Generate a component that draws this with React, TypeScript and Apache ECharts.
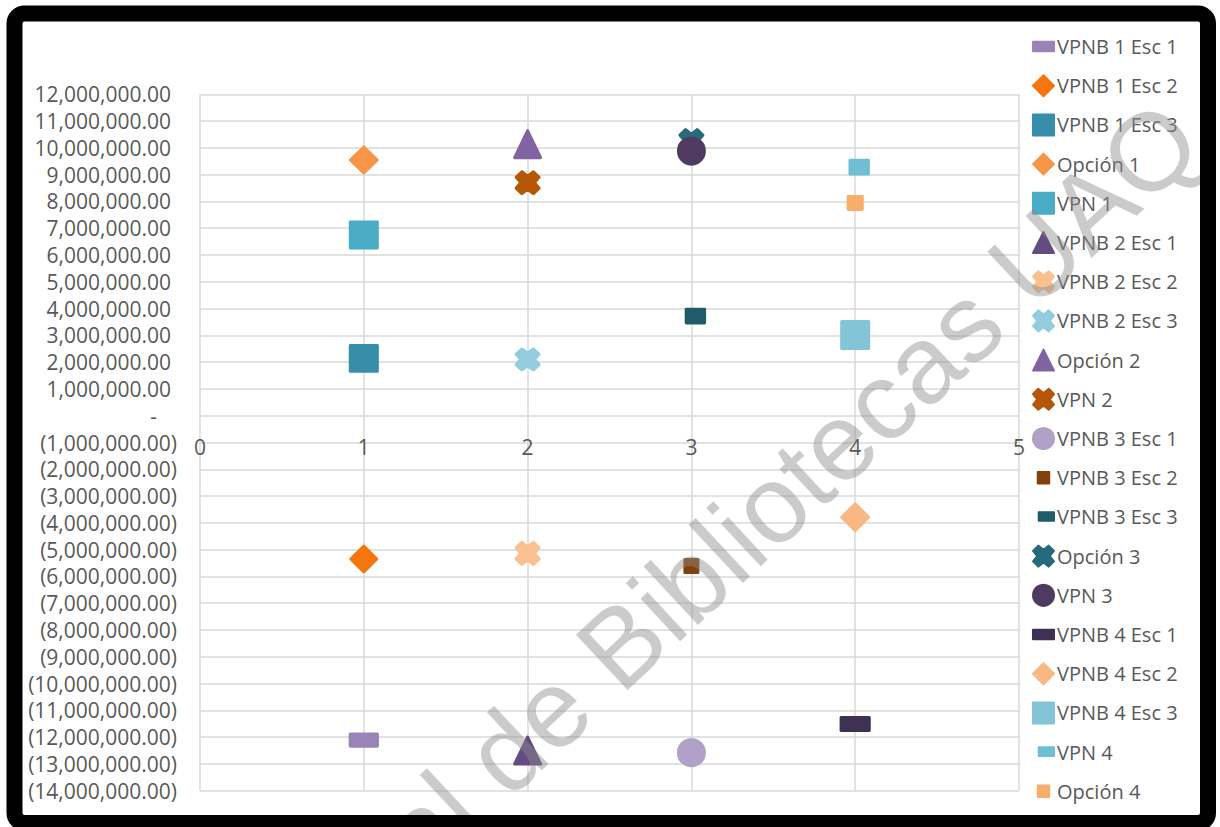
import { useEffect, useRef } from "react";
import * as echarts from "echarts";

// Series, in drawing order (later series sit on top of earlier ones)
const seriesNames = [
  "VPNB 1 Esc 1", "VPNB 1 Esc 2", "VPNB 1 Esc 3", "Opción 1", "VPN 1",
  "VPNB 2 Esc 1", "VPNB 2 Esc 2", "VPNB 2 Esc 3", "Opción 2", "VPN 2",
  "VPNB 3 Esc 1", "VPNB 3 Esc 2", "VPNB 3 Esc 3", "Opción 3", "VPN 3",
  "VPNB 4 Esc 1", "VPNB 4 Esc 2", "VPNB 4 Esc 3", "VPN 4", "Opción 4",
];

// Project number (x) of each series
const seriesX = [1, 1, 1, 1, 1, 2, 2, 2, 2, 2, 3, 3, 3, 3, 3, 4, 4, 4, 4, 4];

// Net present values (y) of each series
const seriesY = [
  -12110000, -5350000, 2140000, 9550000, 6750000,
  -12500000, -5140000, 2100000, 10140000, 8700000,
  -12580000, -5610000, 3720000, 10270000, 9880000,
  -11510000, -3790000, 3010000, 9280000, 7940000,
];

// Axis ranges
const yMin = -14000000;
const yMax = 12000000;
const yStep = 1000000;
const xMin = 0;
const xMax = 5;
const xStep = 1;

// Marker paths
const X_PATH =
  "path://M0 5L5 0L10 4L15 0L20 5L16 10L20 15L15 20L10 16L5 20L0 15L4 10Z";
const DASH_ICON = "path://M0 0M22 22M0 6L22 6L22 16L0 16Z";
const SMALL_DASH_ICON = "path://M0 0M22 22M6 6L22 6L22 15L6 15Z";
const SMALL_SQUARE_ICON = "path://M0 0M22 22M5 5L17 5L17 17L5 17Z";

type MarkerStyle = {
  symbol: string;
  size: [number, number];
  color: string;
  icon: string;
  offset?: [number, number];
};

const markerStyles: MarkerStyle[] = [
  { symbol: "rect", size: [26, 13], color: "#9a84b7", icon: DASH_ICON },
  { symbol: "diamond", size: [26, 26], color: "#f4760c", icon: "diamond" },
  { symbol: "rect", size: [27, 26], color: "#378ea8", icon: "rect" },
  { symbol: "diamond", size: [27, 26], color: "#f79646", icon: "diamond" },
  { symbol: "rect", size: [27, 26], color: "#4bacc6", icon: "rect" },
  { symbol: "triangle", size: [26, 27], color: "#624c82", icon: "triangle" },
  { symbol: X_PATH, size: [23, 22], color: "#fac08f", icon: X_PATH },
  { symbol: X_PATH, size: [23, 21], color: "#93cddd", icon: X_PATH },
  { symbol: "triangle", size: [26, 27], color: "#8064a2", icon: "triangle" },
  { symbol: X_PATH, size: [23, 22], color: "#b65708", icon: X_PATH },
  { symbol: "circle", size: [26, 26], color: "#b1a0c7", icon: "circle" },
  { symbol: "rect", size: [13, 13], color: "#83400b", icon: SMALL_SQUARE_ICON },
  { symbol: "rect", size: [18, 14], color: "#215a69", icon: SMALL_DASH_ICON, offset: [4, 0] },
  { symbol: X_PATH, size: [23, 22], color: "#276a7c", icon: X_PATH },
  { symbol: "circle", size: [26, 26], color: "#4f3b62", icon: "circle" },
  { symbol: "rect", size: [27, 14], color: "#3f3151", icon: DASH_ICON },
  { symbol: "diamond", size: [27, 27], color: "#f9b882", icon: "diamond" },
  { symbol: "rect", size: [27, 27], color: "#83c5d6", icon: "rect" },
  { symbol: "rect", size: [18, 14], color: "#6fbfd4", icon: SMALL_DASH_ICON, offset: [4, 0] },
  { symbol: "rect", size: [14, 13], color: "#f8ad6a", icon: SMALL_SQUARE_ICON },
];

const LABEL_COLOR = "#595959";
const GRID_COLOR = "#d9d9d9";
const FONT = "'Open Sans', 'Noto Sans', sans-serif";

function formatY(v: number): string {
  if (v === 0) return "{z|-}";
  const s = Math.abs(v).toLocaleString("en-US", {
    minimumFractionDigits: 2,
    maximumFractionDigits: 2,
  });
  return v < 0 ? `{n|(${s})}` : `{p|${s}}`;
}

export default function App() {
  const ref = useRef<HTMLDivElement>(null);

  useEffect(() => {
    if (!ref.current) return;
    const chart = echarts.init(ref.current, undefined, { renderer: "svg" });

    const series = seriesNames.map((name, i) => {
      const m = markerStyles[i];
      return {
        name,
        type: "scatter",
        symbol: m.symbol,
        symbolSize: m.size,
        symbolOffset: m.offset || [0, 0],
        itemStyle: {
          color: m.color,
          borderColor: m.color,
          borderWidth: 3,
          borderJoin: "round",
          opacity: 1,
        },
        emphasis: { disabled: true },
        data: [[seriesX[i], seriesY[i]]],
      };
    });

    const labelRich = {
      p: { fontSize: 21, fontFamily: FONT, color: LABEL_COLOR, padding: [0, 6, 0, 0] },
      n: { fontSize: 21, fontFamily: FONT, color: LABEL_COLOR },
      z: { fontSize: 21, fontFamily: FONT, color: LABEL_COLOR, padding: [0, 20, 0, 0] },
    };

    chart.setOption({
      animation: false,
      backgroundColor: "#ffffff",
      grid: { left: 200, right: 201, top: 94.3, bottom: 36.3, containLabel: false },
      xAxis: {
        type: "value",
        position: "bottom",
        min: xMin,
        max: xMax,
        interval: xStep,
        axisLine: { show: false, onZero: false },
        axisTick: { show: false },
        // the labels sit just under the zero line, inside the plot area
        axisLabel: { fontSize: 21, fontFamily: FONT, color: LABEL_COLOR, margin: -354 },
        splitLine: { show: true, lineStyle: { color: GRID_COLOR, width: 1.5 } },
      },
      yAxis: {
        type: "value",
        min: yMin,
        max: yMax,
        interval: yStep,
        axisLine: { show: false, onZero: false },
        axisTick: { show: false },
        axisLabel: {
          formatter: formatY,
          rich: labelRich,
          fontSize: 21,
          fontFamily: FONT,
          color: LABEL_COLOR,
          margin: 23,
        },
        splitLine: { show: true, lineStyle: { color: GRID_COLOR, width: 1.5 } },
      },
      legend: {
        orient: "vertical",
        left: 1032,
        top: 35,
        padding: 0,
        itemWidth: 21,
        itemHeight: 21,
        itemGap: 16.2,
        textStyle: { fontSize: 20, fontFamily: FONT, color: LABEL_COLOR, padding: [0, 0, 0, -2] },
        selectedMode: false,
        data: seriesNames.map((name, i) => ({ name, icon: markerStyles[i].icon })),
      },
      graphic: [
        {
          type: "text",
          z: 100,
          x: 1181,
          y: 122,
          rotation: 0.75,
          silent: true,
          style: {
            text: "Dirección General de Bibliotecas UAQ",
            font: "110px 'Liberation Sans', Arial, sans-serif",
            fill: "rgba(140,140,140,0.45)",
            align: "right",
            verticalAlign: "middle",
          },
        },
        {
          type: "rect",
          z: 110,
          silent: true,
          shape: { x: 14.5, y: 13.5, width: 1193.5, height: 809.5, r: 10 },
          style: { fill: "none", stroke: "#000000", lineWidth: 16 },
        },
      ],
      series,
    });

    return () => chart.dispose();
  }, []);

  return (
    <div
      ref={ref}
      style={{ position: "absolute", left: 0, top: 0, width: 1220, height: 827 }}
    />
  );
}
